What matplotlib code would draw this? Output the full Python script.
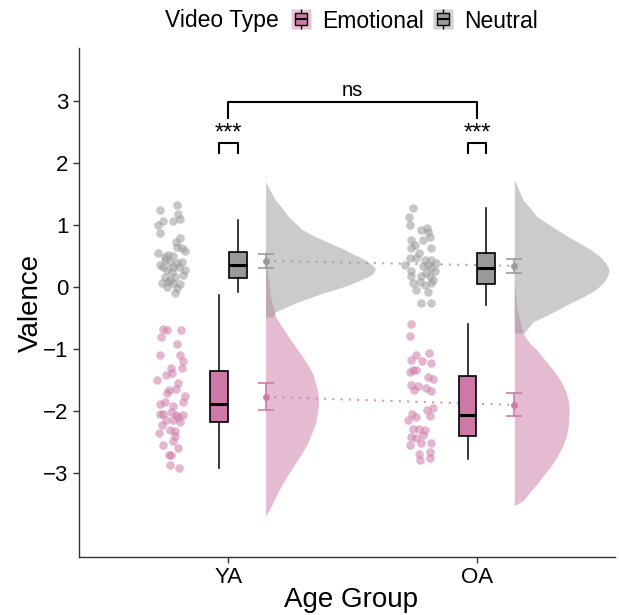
import matplotlib
matplotlib.use('Agg')
import matplotlib.pyplot as plt
from matplotlib.lines import Line2D
from matplotlib.legend_handler import HandlerTuple

plt.rcParams['font.family'] = ['Liberation Sans', 'DejaVu Sans']

groups = ['YA', 'OA']
types = ['Emotional', 'Neutral']
colors = {'Emotional': '#CC79A7', 'Neutral': '#999999'}

# jittered raw points: offset from group centre, valence
ya_emo_dx = [-0.261, -0.245, -0.189, -0.269, -0.205, -0.273, -0.193, -0.181, -0.229, -0.225,
             -0.249, -0.201, -0.237, -0.209, -0.245, -0.273, -0.253, -0.181, -0.273, -0.261,
             -0.221, -0.229, -0.209, -0.201, -0.181, -0.249, -0.221, -0.193, -0.265, -0.233,
             -0.213, -0.277, -0.221, -0.201, -0.237, -0.229, -0.233, -0.197, -0.285, -0.185,
             -0.261, -0.213, -0.173]
ya_emo_y = [-0.67, -0.69, -0.69, -0.80, -0.92, -1.09, -1.09, -1.20, -1.30, -1.38,
            -1.42, -1.55, -1.66, -1.65, -1.70, -1.88, -1.86, -1.85, -2.05, -2.05,
            -1.91, -2.01, -2.06, -2.09, -2.06, -2.15, -2.15, -2.17, -2.23, -2.31,
            -2.32, -2.36, -2.48, -2.60, -2.71, -2.71, -2.86, -2.92, -1.50, -1.30,
            -2.55, -2.40, -1.75]
ya_neu_dx = [-0.273, -0.205, -0.261, -0.221, -0.193, -0.273, -0.193, -0.205, -0.185, -0.241,
             -0.221, -0.253, -0.233, -0.205, -0.185, -0.261, -0.221, -0.197, -0.245, -0.225,
             -0.181, -0.253, -0.213, -0.265, -0.241, -0.221, -0.245, -0.205, -0.213, -0.281,
             -0.173, -0.273, -0.173, -0.233, -0.193, -0.253, -0.209, -0.281, -0.201]
ya_neu_y = [1.24, 1.32, 1.06, 1.06, 1.10, 0.87, 0.79, 0.65, 0.63, 0.52,
            0.50, 0.44, 0.40, 0.39, 0.40, 0.32, 0.32, 0.32, 0.27, 0.24,
            0.19, 0.16, 0.16, 0.06, 0.08, 0.06, 0.00, -0.02, -0.10, 0.55,
            0.58, 0.35, 0.28, 0.12, 0.05, 0.48, 0.72, 1.00, 1.18]
oa_emo_dx = [-0.265, -0.269, -0.265, -0.221, -0.193, -0.185, -0.269, -0.257, -0.245, -0.177,
             -0.265, -0.253, -0.237, -0.205, -0.185, -0.201, -0.245, -0.189, -0.257, -0.233,
             -0.217, -0.265, -0.245, -0.269, -0.225, -0.185, -0.233, -0.189, -0.229, -0.189,
             -0.177, -0.261, -0.209, -0.277, -0.197, -0.245]
oa_emo_y = [-0.60, -0.79, -1.18, -1.19, -1.06, -1.22, -1.37, -1.33, -1.33, -1.49,
            -1.58, -1.66, -1.60, -1.63, -1.67, -1.98, -2.09, -2.08, -2.28, -2.28,
            -2.39, -2.42, -2.44, -2.55, -2.52, -2.51, -2.69, -2.66, -2.78, -2.76,
            -1.95, -2.05, -2.30, -2.15, -1.45, -1.10]
oa_neu_dx = [-0.257, -0.269, -0.225, -0.197, -0.265, -0.217, -0.189, -0.265, -0.233, -0.185,
             -0.269, -0.245, -0.209, -0.185, -0.197, -0.217, -0.185, -0.265, -0.205, -0.169,
             -0.265, -0.225, -0.189, -0.257, -0.229, -0.209, -0.185, -0.245, -0.197, -0.225,
             -0.185, -0.273, -0.201, -0.249, -0.165, -0.289, -0.177]
oa_neu_y = [1.28, 1.00, 0.92, 0.89, 0.76, 0.76, 0.81, 0.62, 0.54, 0.63,
            0.46, 0.46, 0.44, 0.44, 0.35, 0.33, 0.30, 0.25, 0.22, 0.25,
            0.17, 0.17, 0.17, 0.06, 0.08, 0.03, 0.06, -0.05, -0.08, -0.26,
            -0.26, 1.12, 0.95, 0.68, 0.38, 0.36, 0.12]

# box stats: whislo, q1, median, q3, whishi
ya_emo_box = [-2.92, -2.18, -1.89, -1.355, -0.13]
ya_neu_box = [-0.08, 0.145, 0.355, 0.565, 1.08]
oa_emo_box = [-2.77, -2.40, -2.06, -1.44, -0.60]
oa_neu_box = [-0.29, 0.05, 0.31, 0.55, 1.27]

# mean, lower, upper
ya_emo_mean = [-1.77, -1.98, -1.55]
ya_neu_mean = [0.42, 0.31, 0.53]
oa_emo_mean = [-1.90, -2.08, -1.71]
oa_neu_mean = [0.34, 0.22, 0.45]

# half-violin outlines: valence, width
ya_emo_vy = [0.68, 0.27, -0.16, -0.48, -0.80, -0.96, -1.12, -1.26, -1.39, -1.66, -1.77, -1.88,
             -2.04, -2.20, -2.36, -2.52, -2.68, -2.84, -3.00, -3.17, -3.33, -3.49, -3.70]
ya_emo_vw = [0, 0.007, 0.020, 0.040, 0.092, 0.120, 0.149, 0.171, 0.189, 0.209, 0.212, 0.213,
             0.208, 0.201, 0.185, 0.169, 0.145, 0.120, 0.094, 0.068, 0.047, 0.028, 0]
ya_neu_vy = [1.70, 1.54, 1.40, 1.27, 1.13, 0.92, 0.84, 0.76, 0.69, 0.62, 0.54, 0.46, 0.38, 0.30,
             0.22, 0.17, 0.10, 0.03, -0.04, -0.10, -0.18, -0.26, -0.33, -0.40, -0.48, -0.48]
ya_neu_vw = [0, 0.020, 0.040, 0.067, 0.092, 0.149, 0.187, 0.229, 0.268, 0.309, 0.348, 0.390, 0.422, 0.442,
             0.434, 0.414, 0.375, 0.333, 0.281, 0.229, 0.174, 0.120, 0.080, 0.040, 0.032, 0]
oa_emo_vy = [0.11, -0.37, -0.75, -0.88, -1.02, -1.18, -1.34, -1.50, -1.66, -1.82, -1.98, -2.25,
             -2.41, -2.58, -2.74, -2.90, -3.03, -3.17, -3.30, -3.44, -3.52]
oa_emo_vw = [0, 0.012, 0.036, 0.057, 0.092, 0.124, 0.157, 0.185, 0.205, 0.217, 0.221, 0.217,
             0.209, 0.193, 0.171, 0.145, 0.118, 0.092, 0.064, 0.036, 0]
oa_neu_vy = [1.73, 1.40, 1.27, 1.13, 0.92, 0.81, 0.70, 0.60, 0.49, 0.38, 0.27, 0.17, 0.06,
             -0.05, -0.16, -0.26, -0.37, -0.47, -0.56, -0.74, -0.74]
oa_neu_vw = [0, 0.036, 0.064, 0.092, 0.173, 0.218, 0.265, 0.308, 0.345, 0.369, 0.382, 0.375, 0.357,
             0.325, 0.277, 0.225, 0.173, 0.124, 0.076, 0.040, 0]

data = {
    ('YA', 'Emotional'): (ya_emo_dx, ya_emo_y, ya_emo_box, ya_emo_mean, ya_emo_vy, ya_emo_vw),
    ('YA', 'Neutral'): (ya_neu_dx, ya_neu_y, ya_neu_box, ya_neu_mean, ya_neu_vy, ya_neu_vw),
    ('OA', 'Emotional'): (oa_emo_dx, oa_emo_y, oa_emo_box, oa_emo_mean, oa_emo_vy, oa_emo_vw),
    ('OA', 'Neutral'): (oa_neu_dx, oa_neu_y, oa_neu_box, oa_neu_mean, oa_neu_vy, oa_neu_vw),
}

fig = plt.figure(figsize=(6.19, 6.15), dpi=100)
ax = fig.add_axes([79 / 619, 58 / 615, 536 / 619, 509 / 615])

box_off = {'Emotional': -0.038, 'Neutral': 0.038}
side = 0.15

for t in types:
    col = colors[t]
    mx, my = [], []
    for i, g in enumerate(groups):
        pos = i + 1
        dx, y, b, m, vy, vw = data[(g, t)]
        # half violin
        ax.fill_betweenx(vy, pos + side, [pos + side + w for w in vw],
                         color=col, alpha=0.5, lw=0, zorder=1)
        # raw points
        ax.scatter([pos + d for d in dx], y, s=38, color=col, alpha=0.55, lw=0, zorder=2)
        # boxplot
        st = dict(whislo=b[0], q1=b[1], med=b[2], q3=b[3], whishi=b[4])
        ax.bxp([st], positions=[pos + box_off[t]], widths=0.072, showfliers=False,
               showcaps=False, patch_artist=True, manage_ticks=False,
               boxprops=dict(facecolor=col, edgecolor='black', lw=1.2),
               medianprops=dict(color='black', lw=2.2),
               whiskerprops=dict(color='black', lw=1.1), zorder=3)
        # mean with error bar
        ax.errorbar(pos + side, m[0], yerr=[[m[0] - m[1]], [m[2] - m[0]]], fmt='o', ms=4,
                    color=col, capsize=6, elinewidth=1.3, capthick=1.3, alpha=0.9, zorder=3)
        mx.append(pos + side)
        my.append(m[0])
    ax.plot(mx, my, ls=(0, (1, 3)), color=col, lw=1.5, alpha=0.8, zorder=2)

# significance brackets
ax.plot([1, 1, 2, 2], [2.72, 2.98, 2.98, 2.72], color='black', lw=1.5)
ax.text(1.5, 3.07, 'ns', ha='center', va='baseline', fontsize=14.5)
for pos in [1, 2]:
    ax.plot([pos - 0.038, pos - 0.038, pos + 0.038, pos + 0.038], [2.16, 2.32, 2.32, 2.16],
            color='black', lw=1.5)
    ax.text(pos, 2.47, '***', ha='center', va='center', fontsize=17)

ax.set_xlim(0.40, 2.555)
ax.set_ylim(-4.35, 3.85)
ax.set_xticks([1, 2])
ax.set_xticklabels(groups)
ax.set_yticks([-3, -2, -1, 0, 1, 2, 3])
ax.set_yticklabels(['\u22123', '\u22122', '\u22121', '0', '1', '2', '3'])
ax.tick_params(labelsize=16, length=4, width=1, colors='#333333', labelcolor='black')
for s in ['top', 'right']:
    ax.spines[s].set_visible(False)
for s in ['left', 'bottom']:
    ax.spines[s].set_color('#333333')
    ax.spines[s].set_linewidth(1)
ax.set_xlabel('Age Group', fontsize=20)
ax.set_ylabel('Valence', fontsize=20)
ax.xaxis.set_label_coords(0.508, -0.058)
ax.yaxis.set_label_coords(-0.065, 0.5)

# legend
handles = []
for t in types:
    bg = Line2D([], [], ls='none', marker='s', ms=15, mfc=colors[t], mec='none', alpha=0.45)
    wh = Line2D([], [], ls='none', marker='|', ms=15, mec='black', mew=1)
    bx = Line2D([], [], ls='none', marker='s', ms=9, mfc=colors[t], mec='black', mew=1)
    md = Line2D([], [], ls='none', marker='_', ms=9, mec='black', mew=1.5)
    handles.append((bg, wh, bx, md))
fig.text(165 / 619, 1 - 21 / 615, 'Video Type', fontsize=16.5, va='center', ha='left')
fig.legend(handles, types, handler_map={tuple: HandlerTuple(ndivide=1, pad=0)},
           loc='center left', bbox_to_anchor=(287 / 619, 1 - 21 / 615), ncol=2,
           frameon=False, fontsize=16.5, numpoints=1, handlelength=1.2, handletextpad=0.35,
           columnspacing=0.2, borderpad=0, borderaxespad=0)

fig.savefig('out.png', dpi=100)
